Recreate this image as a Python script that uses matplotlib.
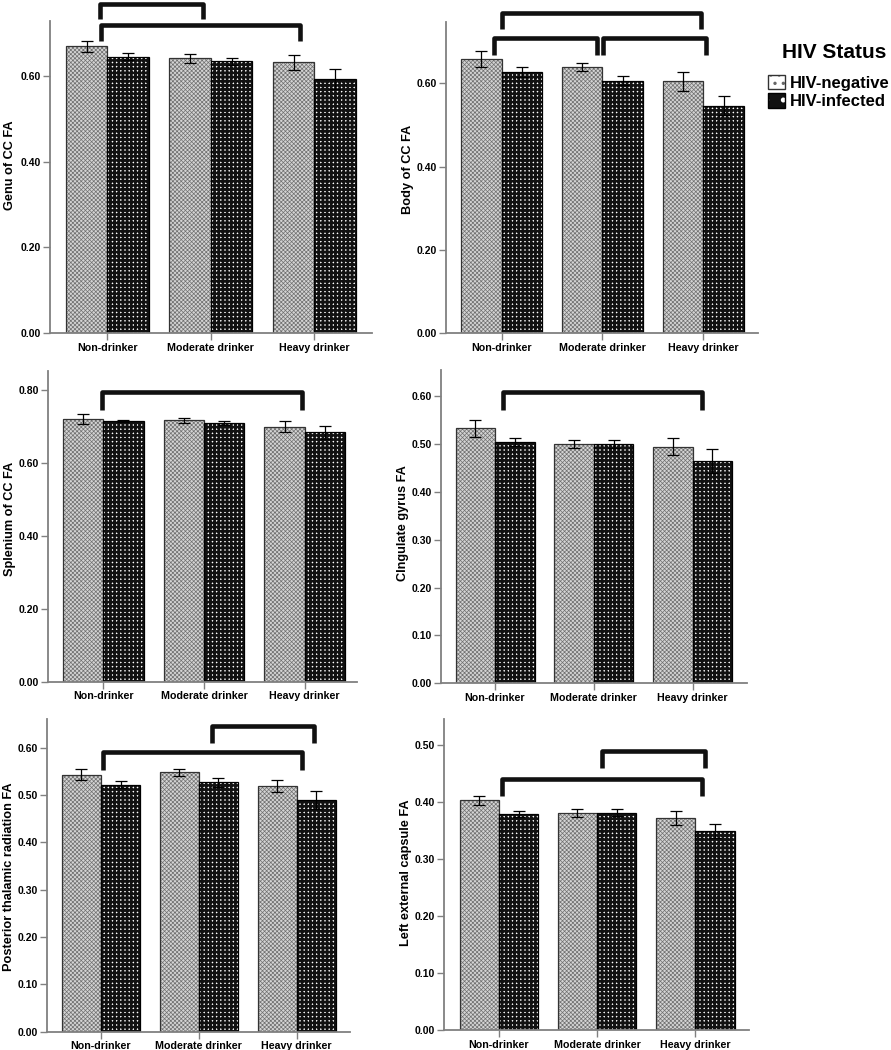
import matplotlib
matplotlib.use('Agg')
import matplotlib.pyplot as plt
import numpy as np
from matplotlib.patches import Patch
from matplotlib.legend_handler import HandlerTuple
from matplotlib.ticker import FormatStrFormatter, MultipleLocator

plt.rcParams['font.family'] = ['Liberation Sans', 'DejaVu Sans']
plt.rcParams['font.weight'] = 'bold'

# drinking groups and HIV status
categories = ['Non-drinker', 'Moderate drinker', 'Heavy drinker']
groups = ['HIV-negative', 'HIV-infected']

# mean FA and error bar half-widths
genu_neg = [0.669, 0.641, 0.632]
genu_inf = [0.645, 0.634, 0.593]
genu_neg_err = [0.0125, 0.0102, 0.017]
genu_inf_err = [0.0086, 0.0086, 0.024]

body_neg = [0.658, 0.639, 0.605]
body_inf = [0.628, 0.606, 0.546]
body_neg_err = [0.0184, 0.0104, 0.023]
body_inf_err = [0.012, 0.0104, 0.023]

splen_neg = [0.720, 0.717, 0.699]
splen_inf = [0.715, 0.710, 0.684]
splen_neg_err = [0.0137, 0.0073, 0.0146]
splen_inf_err = [0.004, 0.0055, 0.0183]

cing_neg = [0.532, 0.499, 0.494]
cing_inf = [0.504, 0.500, 0.464]
cing_neg_err = [0.018, 0.0084, 0.0174]
cing_inf_err = [0.009, 0.0084, 0.025]

ptr_neg = [0.543, 0.548, 0.519]
ptr_inf = [0.522, 0.527, 0.489]
ptr_neg_err = [0.0113, 0.0078, 0.0134]
ptr_inf_err = [0.007, 0.0092, 0.019]

lec_neg = [0.403, 0.381, 0.3725]
lec_inf = [0.379, 0.381, 0.350]
lec_neg_err = [0.0082, 0.007, 0.0123]
lec_inf_err = [0.0058, 0.0064, 0.0123]

panels = [
    ('Genu of CC FA', genu_neg, genu_inf, genu_neg_err, genu_inf_err),
    ('Body of CC FA', body_neg, body_inf, body_neg_err, body_inf_err),
    ('Splenium of CC FA', splen_neg, splen_inf, splen_neg_err, splen_inf_err),
    ('CIngulate gyrus FA', cing_neg, cing_inf, cing_neg_err, cing_inf_err),
    ('Posterior thalamic radiation FA', ptr_neg, ptr_inf, ptr_neg_err, ptr_inf_err),
    ('Left external capsule FA', lec_neg, lec_inf, lec_neg_err, lec_inf_err),
]

# layout: axes rect, y max, tick step, ylabel centre, x limits
rects = [
    [0.0561, 0.6829, 0.3614, 0.2974],
    [0.5006, 0.6826, 0.3505, 0.2968],
    [0.0542, 0.3508, 0.3461, 0.2962],
    [0.4946, 0.3492, 0.3441, 0.2984],
    [0.0524, 0.0174, 0.3404, 0.2975],
    [0.4983, 0.0190, 0.3426, 0.2959],
]
ymax = [0.729, 0.748, 0.853, 0.654, 0.660, 0.545]
ystep = [0.2, 0.2, 0.2, 0.1, 0.1, 0.1]
ylab_y = [0.538, 0.527, 0.525, 0.511, 0.497, 0.507]
xlims = [(-0.554, 2.557), (-0.55, 2.545), (-0.546, 2.516),
         (-0.55, 2.553), (-0.555, 2.545), (-0.56, 2.55)]

# significance brackets: (x left, x right, y of bar, y of leg ends)
brackets = [
    [(-0.07, 0.92, 0.769, 0.734), (-0.06, 1.86, 0.720, 0.681)],
    [(0.0, 1.98, 0.768, 0.730), (-0.073, 0.95, 0.708, 0.668), (1.01, 2.03, 0.708, 0.668)],
    [(-0.016, 1.97, 0.794, 0.745)],
    [(0.078, 2.09, 0.6075, 0.5706)],
    [(1.13, 2.18, 0.646, 0.610), (0.017, 2.05, 0.592, 0.553)],
    [(1.05, 2.10, 0.490, 0.459), (0.034, 2.07, 0.440, 0.410)],
]

fig = plt.figure(figsize=(8.91, 10.5), dpi=100)
x = np.arange(len(categories))
w = 0.4
spine_col = '#808080'


def hatched_bar(ax, xs, vals, face, hcol, hatch, hlw, outline):
    with plt.rc_context({'hatch.linewidth': hlw}):
        bars = ax.bar(xs, vals, w, color=face, edgecolor=hcol, hatch=hatch, linewidth=0)
        for b in bars:
            if hasattr(b, 'set_hatch_linewidth'):
                b.set_hatch_linewidth(hlw)
    ax.bar(xs, vals, w, fill=False, edgecolor=outline, linewidth=0.9)


for i, (lab, neg, inf, neg_err, inf_err) in enumerate(panels):
    ax = fig.add_axes(rects[i])
    hatched_bar(ax, x - w / 2, neg, '#d4d4d4', '#707070', 'xxxxxxxx', 0.5, '#333333')
    hatched_bar(ax, x + w / 2, inf, 'white', '#111111', '++++', 1.9, 'black')
    ax.errorbar(x - w / 2, neg, yerr=neg_err, fmt='none', ecolor='black',
                elinewidth=0.9, capsize=4, capthick=0.9)
    ax.errorbar(x + w / 2, inf, yerr=inf_err, fmt='none', ecolor='black',
                elinewidth=0.9, capsize=4, capthick=0.9)

    for (x0, x1, yt, yb) in brackets[i]:
        ax.plot([x0, x0, x1, x1], [yb, yt, yt, yb], color='#111111', lw=3.3,
                solid_joinstyle='round', solid_capstyle='butt', clip_on=False)

    ax.set_xlim(*xlims[i])
    ax.set_ylim(0, ymax[i])
    ax.set_xticks(x)
    ax.set_xticklabels(categories, fontsize=7.7, fontweight='bold')
    ax.yaxis.set_major_locator(MultipleLocator(ystep[i]))
    ax.yaxis.set_major_formatter(FormatStrFormatter('%.2f'))
    ax.tick_params(axis='y', labelsize=7.5, length=5, width=1, color=spine_col, pad=1.5)
    ax.tick_params(axis='x', length=5, width=1, color=spine_col, pad=2)
    for s in ['top', 'right']:
        ax.spines[s].set_visible(False)
    for s in ['left', 'bottom']:
        ax.spines[s].set_color(spine_col)
        ax.spines[s].set_linewidth(1.3)
    ax.set_ylabel(lab, fontsize=9.2, fontweight='bold')
    ax.yaxis.set_label_coords(-0.104, ylab_y[i])

# legend
fig.text(834 / 891, 1 - 52 / 1050, 'HIV Status', ha='center', va='center',
         fontsize=15, fontweight='bold')
with plt.rc_context({'hatch.linewidth': 1.2}):
    neg_handle = (Patch(facecolor='white', edgecolor='#666666', hatch='..', linewidth=0),
                  Patch(fill=False, edgecolor='#333333', linewidth=1))
    inf_handle = (Patch(facecolor='#111111', edgecolor='white', hatch='.', linewidth=0),
                  Patch(fill=False, edgecolor='black', linewidth=1))
    fig.legend([neg_handle, inf_handle], groups, loc='upper left',
               bbox_to_anchor=(0.862, 0.929), frameon=False,
               prop={'weight': 'bold', 'size': 12},
               handler_map={tuple: HandlerTuple(ndivide=1)},
               handlelength=1.0, handleheight=1.0, handletextpad=0.3,
               labelspacing=0.14, borderpad=0, borderaxespad=0)

fig.savefig('out.png', dpi=100)
